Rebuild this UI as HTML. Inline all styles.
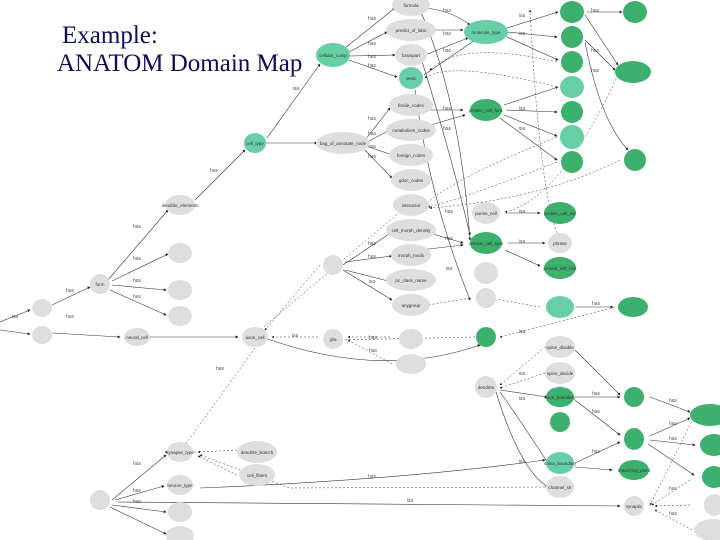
<!DOCTYPE html>
<html><head><meta charset="utf-8"><style>
html,body{margin:0;padding:0;background:#fff;width:720px;height:540px;overflow:hidden}
.t{position:absolute;font-family:"Liberation Serif",serif;font-size:25px;color:#0d0d5c;white-space:nowrap}
</style></head><body>
<div class="t" style="left:62px;top:22px">Example:</div>
<div class="t" style="left:57px;top:50px">ANATOM Domain Map</div>
<svg width="720" height="540" style="position:absolute;left:0;top:0">
<defs><marker id="a" markerWidth="5" markerHeight="5" refX="4" refY="2.5" orient="auto"><path d="M0,0L5,2.5L0,5z" fill="#223"/></marker></defs>
<g stroke="#334" stroke-width="0.6" fill="none" marker-end="url(#a)">
<path d="M0,322 L30,310"/><path d="M0,330 L30,334"/>
<path d="M52,305 L90,287"/><path d="M52,333 L120,337"/>
<path d="M108,280 L168,210"/><path d="M112,281 L168,254"/><path d="M112,285 L166,290"/><path d="M110,290 L166,315"/>
<path d="M148,337 L238,337"/><path d="M195,200 L245,150"/>
<path d="M267,138 L320,64"/><path d="M266,143 L317,143"/>
<path d="M345,48 L395,8"/><path d="M349,52 L387,32"/><path d="M350,56 L395,55"/><path d="M349,60 L397,77"/>
<path d="M365,140 L390,108"/><path d="M367,142 L390,130"/><path d="M367,146 L392,155"/><path d="M365,150 L392,178"/>
<path d="M432,30 L463,30"/><path d="M425,8 Q450,10 470,25"/><path d="M425,55 L468,38"/><path d="M424,75 L475,40"/>
<path d="M507,28 L558,12"/><path d="M507,32 L557,37"/><path d="M505,36 L558,60"/>
<path d="M587,12 L622,12"/><path d="M585,15 L618,65"/><path d="M585,40 L615,70"/><path d="M585,42 Q600,120 628,150"/>
<path d="M504,105 L558,87"/><path d="M506,110 L557,112"/><path d="M504,115 L557,136"/><path d="M500,118 L557,160"/>
<path d="M420,110 L463,110"/><path d="M420,128 L465,115"/>
<path d="M343,265 L392,232"/><path d="M345,262 L392,256"/><path d="M345,270 L392,282"/><path d="M343,270 L392,300"/>
<path d="M508,243 L545,243"/><path d="M506,213 L540,213"/><path d="M505,250 L540,266"/>
<path d="M420,230 L463,243"/><path d="M420,250 L463,245"/>
<path d="M575,307 L613,307"/><path d="M500,390 L547,397"/><path d="M500,392 Q520,420 548,463"/><path d="M496,392 Q520,470 548,487"/>
<path d="M575,397 L620,397"/><path d="M575,400 L620,435"/><path d="M575,463 L620,442"/><path d="M575,467 L612,470"/>
<path d="M650,397 L690,412"/><path d="M650,436 L690,418"/><path d="M650,440 L695,445"/><path d="M648,444 L694,475"/>
<path d="M262,337 Q380,380 480,345"/>
<path d="M112,500 L166,455"/><path d="M115,500 L164,486"/><path d="M112,505 L166,512"/><path d="M110,507 L166,534"/>
<path d="M118,502 L620,506"/><path d="M200,488 Q400,480 545,460"/><path d="M575,350 L620,395"/>
<path d="M420,10 Q460,100 470,240"/><path d="M420,55 Q450,150 470,235"/><path d="M415,90 Q430,200 470,300"/>
</g>
<g stroke="#334" stroke-width="0.5" fill="none" stroke-dasharray="2,2" marker-end="url(#a)">
<path d="M196,452 L165,452"/><path d="M237,450 L198,452"/><path d="M237,475 L198,456"/>
<path d="M390,337 L348,337"/><path d="M392,364 L348,340"/><path d="M318,337 L272,337"/>
<path d="M557,87 Q450,60 425,78"/><path d="M557,62 Q460,40 430,70"/>
<path d="M557,137 Q450,180 425,205"/><path d="M557,162 Q460,200 428,207"/><path d="M620,160 Q540,200 430,208"/>
<path d="M618,75 Q560,200 505,212"/><path d="M540,307 L490,298"/><path d="M615,307 L500,337"/>
<path d="M545,347 L500,385"/><path d="M545,373 L500,388"/><path d="M470,298 L428,305"/>
<path d="M690,505 L655,506"/><path d="M692,530 L655,510"/><path d="M695,415 L650,505"/><path d="M690,480 L652,505"/>
<path d="M545,487 L290,488 L200,455"/><path d="M400,212 L260,330"/><path d="M320,265 L265,330"/><path d="M255,348 L185,445"/>
<path d="M475,337 L340,340"/><path d="M560,240 Q540,200 530,10"/>
</g>
<g font-family="Liberation Sans,sans-serif" font-size="5" fill="#555" text-anchor="middle">
<text x="372" y="20">has</text><text x="372" y="45">has</text><text x="372" y="58">has</text><text x="372" y="67">has</text>
<text x="447" y="12">has</text><text x="447" y="35">has</text><text x="447" y="52">has</text>
<text x="522" y="17">isa</text><text x="522" y="35">isa</text><text x="296" y="90">isa</text><text x="214" y="172">has</text>
<text x="137" y="228">has</text><text x="137" y="260">has</text><text x="137" y="282">has</text><text x="137" y="298">has</text>
<text x="70" y="292">has</text><text x="15" y="318">isa</text><text x="70" y="318">has</text>
<text x="522" y="110">isa</text><text x="522" y="130">isa</text><text x="447" y="110">has</text><text x="447" y="130">has</text>
<text x="372" y="120">has</text><text x="372" y="135">has</text><text x="372" y="148">has</text><text x="372" y="158">has</text>
<text x="595" y="12">has</text><text x="595" y="52">has</text><text x="595" y="72">has</text>
<text x="449" y="213">has</text><text x="449" y="240">has</text><text x="449" y="270">isa</text><text x="522" y="243">isa</text><text x="522" y="213">isa</text>
<text x="596" y="305">has</text><text x="596" y="395">has</text><text x="596" y="413">has</text><text x="596" y="453">has</text>
<text x="372" y="245">has</text><text x="372" y="258">has</text><text x="372" y="283">isa</text>
<text x="373" y="339">has</text><text x="373" y="352">has</text><text x="295" y="337">isa</text><text x="220" y="370">has</text>
<text x="137" y="465">has</text><text x="137" y="492">has</text><text x="137" y="503">has</text><text x="410" y="502">isa</text><text x="372" y="478">has</text>
<text x="522" y="333">isa</text><text x="522" y="375">isa</text><text x="522" y="400">isa</text><text x="522" y="463">isa</text>
<text x="673" y="402">has</text><text x="673" y="425">has</text><text x="673" y="440">has</text><text x="673" y="490">has</text><text x="673" y="515">has</text>
</g>
<g stroke="none">
<g fill="#dedede">
<ellipse cx="411" cy="5" rx="19" ry="11"/><ellipse cx="411" cy="30" rx="25" ry="11"/><ellipse cx="411" cy="55" rx="16" ry="11"/>
<ellipse cx="411" cy="105" rx="22" ry="11"/><ellipse cx="411" cy="130" rx="25" ry="11"/><ellipse cx="411" cy="155" rx="22" ry="11"/><ellipse cx="411" cy="180" rx="20" ry="11"/>
<ellipse cx="343" cy="143" rx="27" ry="11"/><ellipse cx="411" cy="205" rx="18" ry="11"/><ellipse cx="411" cy="230" rx="25" ry="11"/>
<ellipse cx="411" cy="255" rx="20" ry="11"/><ellipse cx="411" cy="280" rx="25" ry="11"/><ellipse cx="411" cy="305" rx="19" ry="11"/>
<ellipse cx="333" cy="265" rx="10" ry="10"/><ellipse cx="486" cy="213" rx="14" ry="11"/><ellipse cx="486" cy="273" rx="12" ry="11"/><ellipse cx="486" cy="298" rx="10" ry="10"/>
<ellipse cx="560" cy="243" rx="12" ry="10"/><ellipse cx="560" cy="347" rx="15" ry="11"/><ellipse cx="560" cy="373" rx="15" ry="11"/><ellipse cx="560" cy="487" rx="14" ry="11"/>
<ellipse cx="486" cy="387" rx="11" ry="11"/><ellipse cx="333" cy="339" rx="10" ry="10"/><ellipse cx="411" cy="339" rx="12" ry="10"/><ellipse cx="411" cy="364" rx="15" ry="10"/>
<ellipse cx="180" cy="205" rx="15" ry="10"/><ellipse cx="180" cy="253" rx="12" ry="10"/><ellipse cx="180" cy="290" rx="12" ry="10"/><ellipse cx="180" cy="316" rx="12" ry="10"/>
<ellipse cx="100" cy="284" rx="10" ry="10"/><ellipse cx="42" cy="308" rx="10" ry="9"/><ellipse cx="42" cy="335" rx="10" ry="9"/><ellipse cx="137" cy="337" rx="13" ry="9"/>
<ellipse cx="180" cy="452" rx="13" ry="10"/><ellipse cx="180" cy="485" rx="13" ry="10"/><ellipse cx="180" cy="512" rx="12" ry="10"/><ellipse cx="180" cy="536" rx="14" ry="10"/>
<ellipse cx="257" cy="452" rx="20" ry="11"/><ellipse cx="257" cy="475" rx="18" ry="11"/><ellipse cx="100" cy="500" rx="10" ry="10"/>
<ellipse cx="634" cy="506" rx="10" ry="10"/><ellipse cx="714" cy="505" rx="10" ry="11"/><ellipse cx="714" cy="530" rx="20" ry="11"/><ellipse cx="255" cy="337" rx="13" ry="10"/>
</g>
<g fill="#66cfa6">
<ellipse cx="411" cy="78" rx="12" ry="11"/><ellipse cx="333" cy="55" rx="17" ry="12"/><ellipse cx="486" cy="32" rx="22" ry="12"/>
<ellipse cx="572" cy="87" rx="12" ry="11"/><ellipse cx="572" cy="137" rx="12" ry="12"/><ellipse cx="255" cy="143" rx="11" ry="10"/>
<ellipse cx="560" cy="307" rx="14" ry="11"/><ellipse cx="560" cy="463" rx="14" ry="11"/>
</g>
<g fill="#3cb16e">
<ellipse cx="572" cy="12" rx="12" ry="11"/><ellipse cx="572" cy="37" rx="11" ry="11"/><ellipse cx="572" cy="62" rx="11" ry="11"/>
<ellipse cx="572" cy="112" rx="11" ry="11"/><ellipse cx="572" cy="162" rx="11" ry="11"/><ellipse cx="635" cy="12" rx="12" ry="11"/>
<ellipse cx="633" cy="72" rx="18" ry="11"/><ellipse cx="635" cy="160" rx="11" ry="11"/><ellipse cx="486" cy="110" rx="16" ry="11"/>
<ellipse cx="486" cy="243" rx="16" ry="11"/><ellipse cx="560" cy="213" rx="16" ry="11"/><ellipse cx="560" cy="268" rx="16" ry="11"/>
<ellipse cx="633" cy="307" rx="15" ry="10"/><ellipse cx="486" cy="337" rx="10" ry="10"/><ellipse cx="560" cy="397" rx="14" ry="10"/>
<ellipse cx="560" cy="422" rx="10" ry="10"/><ellipse cx="634" cy="397" rx="10" ry="10"/><ellipse cx="634" cy="439" rx="10" ry="11"/>
<ellipse cx="634" cy="470" rx="15" ry="10"/><ellipse cx="710" cy="415" rx="20" ry="11"/><ellipse cx="714" cy="445" rx="14" ry="11"/><ellipse cx="714" cy="477" rx="12" ry="11"/>
</g>
</g>
<g font-family="Liberation Sans,sans-serif" font-size="4.5" fill="#333" text-anchor="middle">
<text x="411" y="7">formula</text><text x="411" y="32">predict_of_labo</text><text x="411" y="57">brainpart</text><text x="411" y="80">vesic</text>
<text x="333" y="57">cellular_comp</text><text x="486" y="34">molecule_type</text><text x="486" y="112">protein_cell_func</text>
<text x="343" y="145">bag_of_annotate_node</text><text x="255" y="145">cell_type</text><text x="411" y="207">interactor</text>
<text x="411" y="107">fissile_codes</text><text x="411" y="132">metabolism_codes</text><text x="411" y="157">foreign_codes</text><text x="411" y="182">gdoc_codes</text>
<text x="411" y="232">cell_morph_density</text><text x="411" y="257">morph_mods</text><text x="411" y="282">pc_class_name</text><text x="411" y="307">anygroup</text>
<text x="486" y="215">purine_cell</text><text x="486" y="245">cellular_cell_type</text><text x="560" y="245">phrase</text><text x="560" y="215">protein_cell_sur</text><text x="560" y="270">protein_cell_role</text>
<text x="486" y="389">dendrite</text><text x="333" y="341">glia</text><text x="180" y="207">dendrite_elements</text><text x="100" y="286">form</text><text x="137" y="339">neural_cell</text>
<text x="255" y="339">axon_cell</text><text x="560" y="349">spine_disable</text><text x="560" y="375">spine_decide</text><text x="560" y="399">axon_boundary</text>
<text x="560" y="465">soma_boundary</text><text x="560" y="489">channel_str</text><text x="634" y="508">synaptic</text><text x="634" y="472">branching_point</text>
<text x="257" y="454">dendrite_branch</text><text x="257" y="477">cell_fibers</text><text x="180" y="454">synapse_type</text><text x="180" y="487">neuron_type</text>
</g>
</svg>
</body></html>
